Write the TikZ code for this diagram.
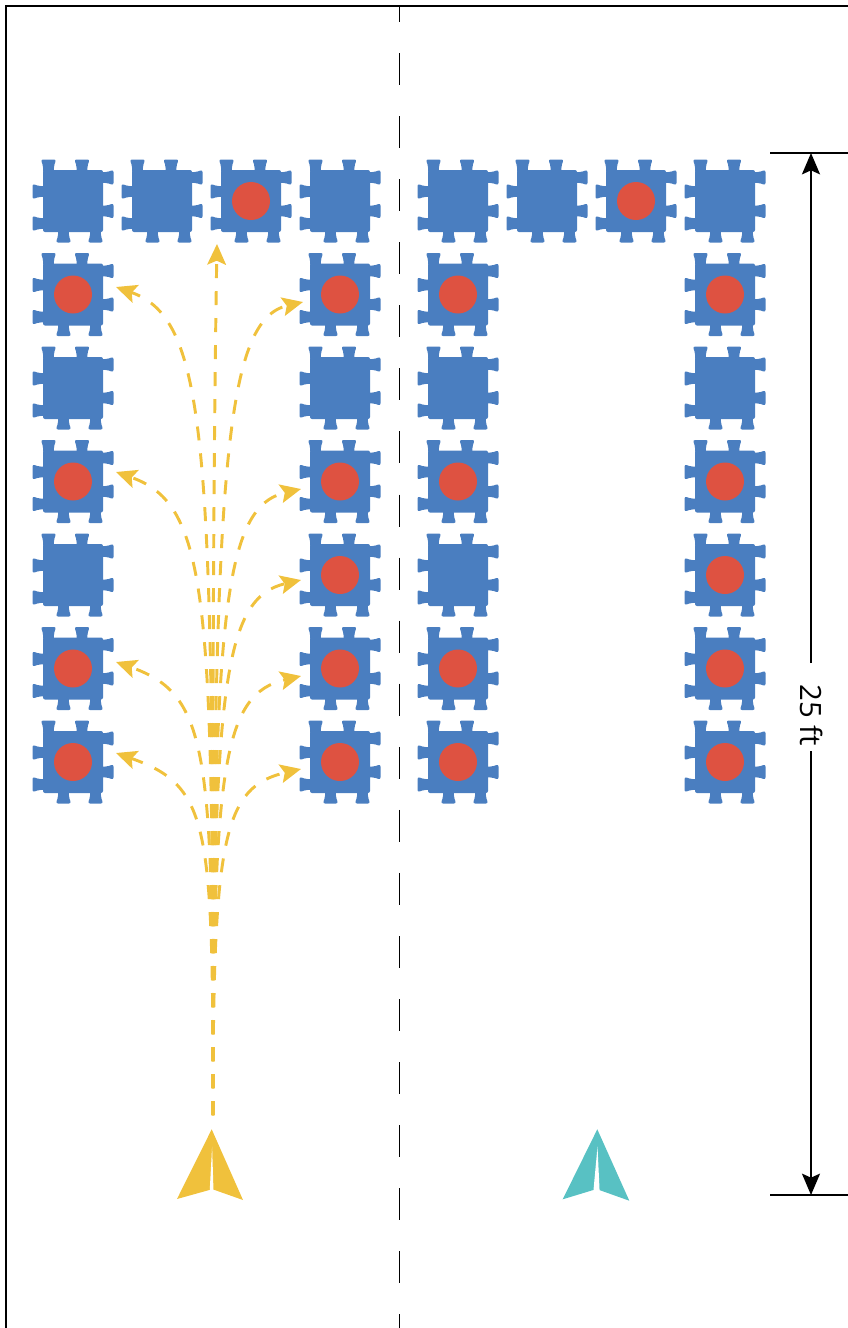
\documentclass[tikz,border=0pt]{standalone}
\usepackage{fontspec}
\setmainfont{Open Sans}
\usetikzlibrary{arrows.meta}

\definecolor{tileblue}{HTML}{4A7EC0}
\definecolor{dotred}{HTML}{DE5241}
\definecolor{pathgold}{HTML}{F0C13C}
\definecolor{planeteal}{HTML}{58C1C3}

\tikzset{
  % one interlocking tab, standing on the x axis and pointing up
  tab/.pic={
    \fill[tileblue, rounded corners=1.6pt]
      (-5.3,-3) -- (-5.3,3.5) -- (-7.6,10.5) -- (7.6,10.5) -- (5.3,3.5) -- (5.3,-3) -- cycle;
  },
  % a foam floor tile: square body with two tabs on every side
  tile/.pic={
    \fill[tileblue, rounded corners=1.5pt] (-30,-31) rectangle (30,31);
    \pic at (-24.5,31) {tab};
    \pic at (9,31) {tab};
    \pic[rotate=-90] at (30,23.5) {tab};
    \pic[rotate=-90] at (30,-10) {tab};
    \pic[rotate=180] at (-9.5,-31) {tab};
    \pic[rotate=180] at (22.5,-31) {tab};
    \pic[rotate=90] at (-30,9.5) {tab};
    \pic[rotate=90] at (-30,-22.5) {tab};
  },
  route/.style={draw=pathgold, line width=2.2pt, dash pattern=on 10.5pt off 9.75pt,
    -{Stealth[length=15.5pt, width=14pt, inset=3pt, fill=pathgold]}},
  dimline/.style={line width=1.5pt, -{Stealth[length=16pt, width=13.5pt, inset=3pt]}},
}

\begin{document}
\begin{tikzpicture}[x=0.75pt, y=0.75pt]
  \useasboundingbox (0,0) rectangle (848,-1328);
  \clip (0,0) rectangle (848,-1328);

  % court outline (runs off to the right and bottom)
  \draw[line width=2pt, miter limit=10] (6,-1340) -- (6,-6) -- (860,-6);

  % centre line
  \draw[line width=1.2pt, dash pattern=on 24pt off 23.3pt, dash phase=12pt]
    (399.5,-6) -- (399.5,-1340);

  % tiles: full top row, then four columns below
  \foreach \x in {73,162,251,340,458,547,636,725}
    \pic at (\x,-201) {tile};
  \foreach \x in {73,340,458,725}
    \foreach \y in {294.5,388,481.5,575,668.5,762}
      \pic at (\x,-\y) {tile};

  % red spots
  \foreach \x/\y in {251/201, 636/201,
      73/294.5, 340/294.5, 458/294.5, 725/294.5,
      73/481.5, 340/481.5, 458/481.5, 725/481.5,
      340/575, 725/575,
      73/668.5, 340/668.5, 458/668.5, 725/668.5,
      73/762, 340/762, 458/762, 725/762}
    \fill[dotred] (\x,-\y) circle (19);

  % start point of the routes and their end points
  \coordinate (start) at (213,-1115);
  \coordinate (up)  at (217,-244);
  \coordinate (L2)  at (116,-287);
  \coordinate (L4)  at (116,-472);
  \coordinate (L6)  at (116,-662);
  \coordinate (L7)  at (116,-753);
  \coordinate (R2)  at (303,-302);
  \coordinate (R4)  at (301,-489);
  \coordinate (R5)  at (301,-580);
  \coordinate (R6)  at (301,-676);
  \coordinate (R7)  at (301,-769);

  % routes
  \draw[route] (start) .. controls +(-1,415) and +(-3,-176) .. (up);
  \draw[route] (start) .. controls +(0,662) and +(94,-33) .. (L2);
  \draw[route] (start) .. controls +(0,514) and +(94,-33) .. (L4);
  \draw[route] (start) .. controls +(0,362) and +(94,-33) .. (L6);
  \draw[route] (start) .. controls +(0,290) and +(94,-33) .. (L7);
  \draw[route] (start) .. controls +(0,650) and +(-78,-18) .. (R2);
  \draw[route] (start) .. controls +(0,501) and +(-78,-18) .. (R4);
  \draw[route] (start) .. controls +(0,428) and +(-78,-18) .. (R5);
  \draw[route] (start) .. controls +(0,351) and +(-78,-18) .. (R6);
  \draw[route] (start) .. controls +(0,277) and +(-78,-18) .. (R7);

  % paper planes
  \fill[pathgold] (211.7,-1129.3) -- (243,-1200) -- (213.3,-1189.5)
    -- (209.3,-1190) -- (177,-1199) -- cycle;
  \fill[white] (212.1,-1146.7) -- (213.5,-1191) -- (209.7,-1191) -- cycle;
  \fill[planeteal] (597.3,-1129.3) -- (629.3,-1200.7) -- (599.3,-1190)
    -- (593.3,-1190) -- (562.7,-1199.3) -- cycle;
  \fill[white] (597.5,-1146.7) -- (599.6,-1191) -- (593.4,-1191) -- cycle;

  % 25 ft dimension
  \draw[line width=1.5pt] (770,-153) -- (860,-153);
  \draw[line width=1.5pt] (770,-1195) -- (860,-1195);
  \coordinate (dimtop) at (811,-153);
  \coordinate (dimbot) at (811,-1195);
  \coordinate (gapA) at (811,-663);
  \coordinate (gapB) at (811,-751);
  \node[rotate=-90, inner sep=0pt, font=\fontsize{22}{26}\selectfont]
    (dimlabel) at (812,-715) {25 ft};
  \draw[dimline] (gapA) -- (dimtop);
  \draw[dimline] (gapB) -- (dimbot);
\end{tikzpicture}
\end{document}
